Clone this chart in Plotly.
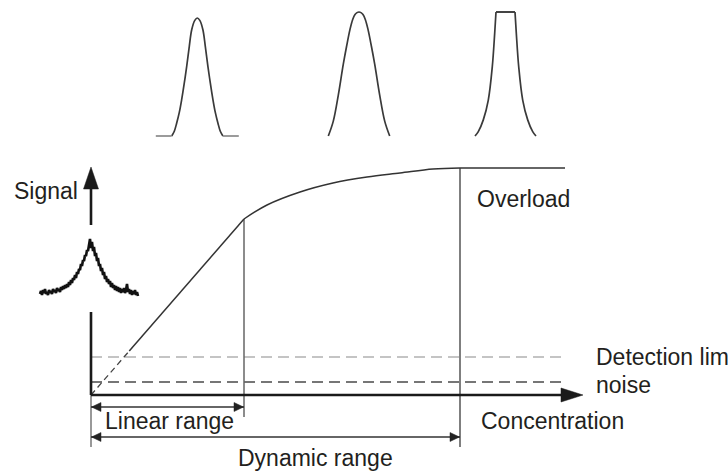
import plotly.graph_objects as go

# ---------------------------------------------------------------------------
# Detector response schematic: signal vs. concentration
# (x = concentration, y = signal, arbitrary units; origin at the axes corner)
# ---------------------------------------------------------------------------

# Response curve: linear part, then bending over to saturation
LINEAR_LIMIT = 153          # concentration where linearity ends
LINEAR_SIGNAL = 176         # signal at the end of the linear range
OVERLOAD_CONC = 369         # concentration where the detector saturates
SATURATION_SIGNAL = 227     # saturated signal level
CONC_END = 474              # last concentration drawn
DASHED_BELOW = 44           # response is drawn dashed below this signal

curve_conc = [153, 176, 209, 242, 276, 309, 342, 369]
curve_signal = [176, 190, 203, 212, 218, 222, 226, 227]

DETECTION_LIMIT = 38
NOISE_LEVEL = 13

# Peak shapes shown above the curve
# (one flank each: offset from centre, relative height; the flat top spans offset 0..top_half)
peak_centres = [106.3, 268, 414.5]
peak_baseline = 259
peak_heights = [118, 124, 124]
peak_top_half = [0, 0, 9.5]
peak_base_half = [41.5, 30.7, 30.5]
peak1_offsets = [0, 2.5, 5.6, 8, 10.6, 13, 15.6, 18, 20.6, 23, 25.6]
peak1_levels = [1, 0.98, 0.90, 0.76, 0.59, 0.45, 0.31, 0.20, 0.11, 0.04, 0]
peak2_offsets = [0, 2, 4, 6.3, 9, 12.5, 15.7, 20.7, 25.7, 30.7]
peak2_levels = [1, 0.995, 0.98, 0.94, 0.86, 0.72, 0.58, 0.33, 0.12, 0]
peak3_offsets = [9.5, 10.8, 13.2, 17.2, 22.2, 27.2, 30.5]
peak3_levels = [1, 0.83, 0.56, 0.29, 0.13, 0.035, 0]

# Noisy peak near the detection limit (offset from centre, height above baseline)
noisy_centre = -1
noisy_baseline = 97
noisy_offsets = list(range(-50, 49))
noisy_heights = [4, 7, 3, 8, 5, 9, 4, 6, 3, 8, 5, 7, 4, 9, 6, 8, 5, 10, 7, 9,
                 6, 11, 8, 12, 9, 13, 10, 14, 11, 16,
                 13, 18, 15, 20, 18, 23, 20, 26, 24, 29,
                 28, 34, 32, 38, 37, 43, 42, 48, 47, 53,
                 59,
                 50, 56, 47, 51, 42, 45, 37, 40, 32, 34,
                 27, 30, 23, 26, 19, 22, 16, 19, 14, 17,
                 11, 15, 10, 13, 8, 12, 7, 11, 6, 10,
                 5, 9, 6, 10, 5, 8, 14, 6, 9, 4, 8, 3, 7, 4, 8, 3, 6, 2]

# Range brackets below the axis
LINEAR_ARROW_Y = -12
DYNAMIC_ARROW_Y = -42

INK = "#1a1a1a"
GREY = "#555555"
TEXT = "#231f20"
FONT = "Liberation Sans, Arial, Helvetica, sans-serif"

fig = go.Figure()


def line(xs, ys, color=GREY, width=1.5, dash="solid", shape="linear"):
    fig.add_trace(go.Scatter(x=xs, y=ys, mode="lines",
                             line=dict(color=color, width=width, dash=dash, shape=shape),
                             hoverinfo="skip", showlegend=False))


def polygons(polys, color=INK):
    xs, ys = [], []
    for p in polys:
        xs += [pt[0] for pt in p] + [p[0][0], None]
        ys += [pt[1] for pt in p] + [p[0][1], None]
    fig.add_trace(go.Scatter(x=xs, y=ys, mode="lines", fill="toself", fillcolor=color,
                             line=dict(color=color, width=0.5),
                             hoverinfo="skip", showlegend=False))


# Detection limit and noise level
line([0, CONC_END], [DETECTION_LIMIT, DETECTION_LIMIT], color="#8a8a8a", width=1.2, dash="11px,6px")
line([0, CONC_END], [NOISE_LEVEL, NOISE_LEVEL], color="#4a4a4a", width=1.6, dash="11px,6px")

# Vertical markers for the end of the linear range and the overload point
line([0, 0], [0, DYNAMIC_ARROW_Y - 10], color="#777777", width=1.5)
line([LINEAR_LIMIT, LINEAR_LIMIT], [LINEAR_ARROW_Y - 10, LINEAR_SIGNAL], color="#666666", width=1.5)
line([OVERLOAD_CONC, OVERLOAD_CONC], [DYNAMIC_ARROW_Y - 10, SATURATION_SIGNAL], color="#555555", width=1.5)

# Response: dashed start, linear part, curved part, saturated plateau
dash_x = LINEAR_LIMIT * DASHED_BELOW / LINEAR_SIGNAL
line([0, dash_x], [0, DASHED_BELOW], color="#444444", width=1.3, dash="6px,4px")
line([dash_x, LINEAR_LIMIT], [DASHED_BELOW, LINEAR_SIGNAL], color="#333333", width=1.5)
line(curve_conc, curve_signal, color="#333333", width=1.5, shape="spline")
line([OVERLOAD_CONC, CONC_END], [SATURATION_SIGNAL, SATURATION_SIGNAL], color="#333333", width=1.5)

# Axes
line([0, 0], [0, 83], color=INK, width=2.6)
line([0, 0], [170, 208], color=INK, width=2.6)
line([0, 472], [0, 0], color=INK, width=2.6)
polygons([
    [(0, 228), (-7.5, 206), (7.5, 206)],        # signal axis arrowhead
    [(492, 0), (470, -7), (470, 7)],            # concentration axis arrowhead
])

# Range arrows
line([0, LINEAR_LIMIT], [LINEAR_ARROW_Y, LINEAR_ARROW_Y], color="#333333", width=1.5)
line([0, OVERLOAD_CONC], [DYNAMIC_ARROW_Y, DYNAMIC_ARROW_Y], color="#333333", width=1.5)
heads = []
for y, xr in [(LINEAR_ARROW_Y, LINEAR_LIMIT), (DYNAMIC_ARROW_Y, OVERLOAD_CONC)]:
    heads.append([(0.5, y), (10, y - 4.5), (10, y + 4.5)])
    heads.append([(xr - 0.5, y), (xr - 10, y - 4.5), (xr - 10, y + 4.5)])
polygons(heads, color="#222222")

# Peak profiles: smooth flanks, straight flat top and baseline
PEAK_INK = "#3a3a3a"
for centre, height, top, base, offs, levels in zip(
        peak_centres, peak_heights, peak_top_half, peak_base_half,
        [peak1_offsets, peak2_offsets, peak3_offsets],
        [peak1_levels, peak2_levels, peak3_levels]):
    ys_side = [peak_baseline + height * v for v in levels]
    if top == 0:
        xs = [centre - o for o in reversed(offs)] + [centre + o for o in offs[1:]]
        ys = list(reversed(ys_side)) + ys_side[1:]
        line(xs, ys, color=PEAK_INK, width=1.7, shape="spline")
    else:
        line([centre - o for o in offs], ys_side, color=PEAK_INK, width=1.7, shape="spline")
        line([centre + o for o in offs], ys_side, color=PEAK_INK, width=1.7, shape="spline")
        line([centre - top, centre + top], [peak_baseline + height] * 2, color=PEAK_INK, width=1.9)
    if base > offs[-1]:
        # flat baseline either side of the peak
        line([centre - base, centre - offs[-1]], [peak_baseline] * 2, color="#8a8a8a", width=1.7)
        line([centre + offs[-1], centre + base], [peak_baseline] * 2, color="#8a8a8a", width=1.7)

# Noisy peak
line([noisy_centre + o for o in noisy_offsets],
     [noisy_baseline + h for h in noisy_heights], color="#111111", width=2.6)

# Labels
labels = [
    ("Signal", -79, 204, "left"),
    ("Overload", 384, 196, "left"),
    ("Detection lim", 503, DETECTION_LIMIT, "left"),
    ("noise", 503, 10, "left"),
    ("Concentration", 388, -26, "left"),
    ("Linear range", 12, -26, "left"),
    ("Dynamic range", 224, -63, "center"),
]
for text, x, y, anchor in labels:
    fig.add_annotation(x=x, y=y, text=text, showarrow=False, xanchor=anchor,
                       yanchor="middle", font=dict(family=FONT, size=23, color=TEXT))

fig.update_layout(
    width=728, height=473,
    margin=dict(l=0, r=0, t=0, b=0),
    paper_bgcolor="white", plot_bgcolor="white",
    xaxis=dict(range=[-91, 637], visible=False, fixedrange=True),
    yaxis=dict(range=[-78, 395], visible=False, fixedrange=True),
    showlegend=False,
)

fig.write_html("out.html")
